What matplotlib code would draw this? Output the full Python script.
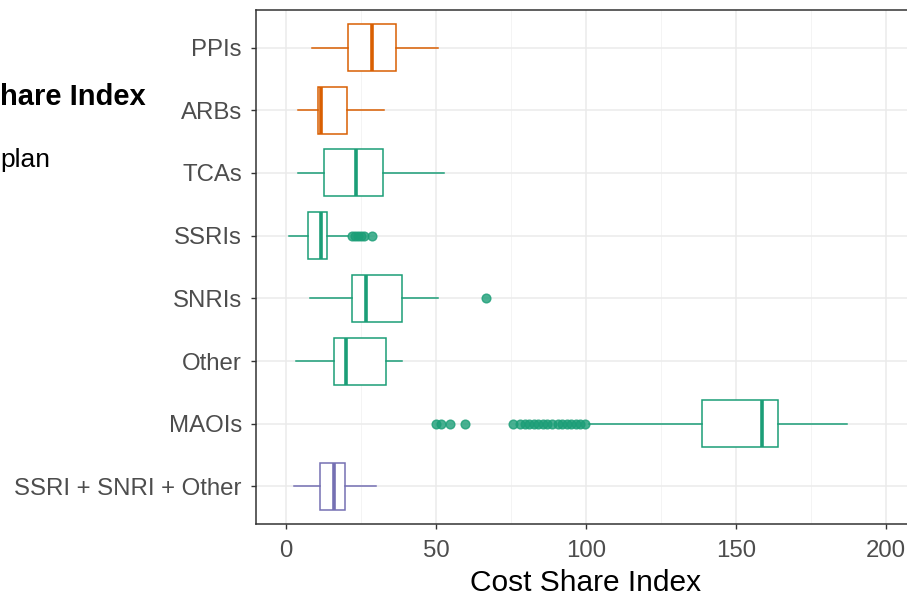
import matplotlib
matplotlib.use("Agg")
import matplotlib.pyplot as plt
from matplotlib.ticker import MultipleLocator

plt.rcParams['font.family'] = ['Liberation Sans', 'DejaVu Sans']

# categories, top to bottom
classes = ["PPIs", "ARBs", "TCAs", "SSRIs", "SNRIs", "Other", "MAOIs", "SSRI + SNRI + Other"]
groups = ["orange", "orange", "green", "green", "green", "green", "green", "purple"]

# five-number summaries
whisk_lo = [8.7, 4.0, 4.0, 1.0, 8.0, 3.3, 101.0, 2.7]
q1 = [20.7, 10.7, 12.7, 7.3, 22.0, 16.0, 138.7, 11.3]
med = [28.7, 11.5, 23.3, 11.7, 26.7, 20.0, 158.7, 16.0]
q3 = [36.7, 20.3, 32.3, 13.7, 38.7, 33.3, 164.0, 19.8]
whisk_hi = [50.7, 32.7, 52.7, 20.5, 50.7, 38.7, 187.0, 29.9]

outliers = {
    "SSRIs": [22.0, 23.0, 24.0, 25.0, 26.0, 28.7],
    "SNRIs": [66.7],
    "MAOIs": [50.0, 51.5, 54.5, 59.5, 75.5, 78.0, 79.5, 81.0, 82.5, 84.0, 85.5,
              87.0, 88.5, 90.5, 92.0, 93.5, 95.0, 96.5, 98.0, 99.5],
}

palette = {"orange": "#D95F02", "green": "#1B9E77", "purple": "#7570B3"}

fig = plt.figure(figsize=(9.07, 5.99), dpi=100)
ax = fig.add_axes([256 / 907, 1 - 524 / 599, (916 - 256) / 907, (524 - 10) / 599])

n = len(classes)
for i, name in enumerate(classes):
    ypos = n - i
    col = palette[groups[i]]
    stats = [dict(whislo=whisk_lo[i], q1=q1[i], med=med[i], q3=q3[i],
                  whishi=whisk_hi[i], fliers=outliers.get(name, []))]
    ax.bxp(stats, positions=[ypos], widths=0.75, vert=False, patch_artist=True,
           showcaps=False,
           boxprops=dict(facecolor="white", edgecolor=col, linewidth=1.1),
           medianprops=dict(color=col, linewidth=2.6),
           whiskerprops=dict(color=col, linewidth=1.1),
           flierprops=dict(marker="o", markerfacecolor=col, markeredgecolor=col,
                           markersize=6.3, alpha=0.8, linestyle="none"),
           zorder=3)

ax.set_xlim(-10, 210)
ax.set_ylim(0.4, n + 0.6)
ax.set_yticks(range(n, 0, -1))
ax.set_yticklabels(classes)
ax.xaxis.set_major_locator(MultipleLocator(50))
ax.xaxis.set_minor_locator(MultipleLocator(25))

ax.grid(True, which="major", color="#EBEBEB", linewidth=1.1, zorder=0)
ax.grid(True, which="minor", axis="x", color="#F2F2F2", linewidth=0.6, zorder=0)
ax.set_axisbelow(True)

for s in ax.spines.values():
    s.set_color("#333333")
    s.set_linewidth(1.1)

ax.tick_params(axis="both", which="major", length=3.6, width=1.0, color="#333333",
               labelsize=17.3, labelcolor="#4D4D4D")
ax.tick_params(axis="y", pad=6.5)
ax.tick_params(axis="x", pad=8)
ax.tick_params(axis="x", which="minor", length=0)
ax.set_xlabel("Cost Share Index", fontsize=21.5, color="black", labelpad=5)

# what shows of the neighbouring panel's title and subtitle at the left edge
fig.text(0.0, 1 - 97 / 599, "hare Index", ha="left", va="center",
         fontsize=21, fontweight="bold", color="black")
fig.text(0.0, 1 - 160 / 599, "plan", ha="left", va="center",
         fontsize=19, color="black")

fig.savefig("out.png", dpi=100)
